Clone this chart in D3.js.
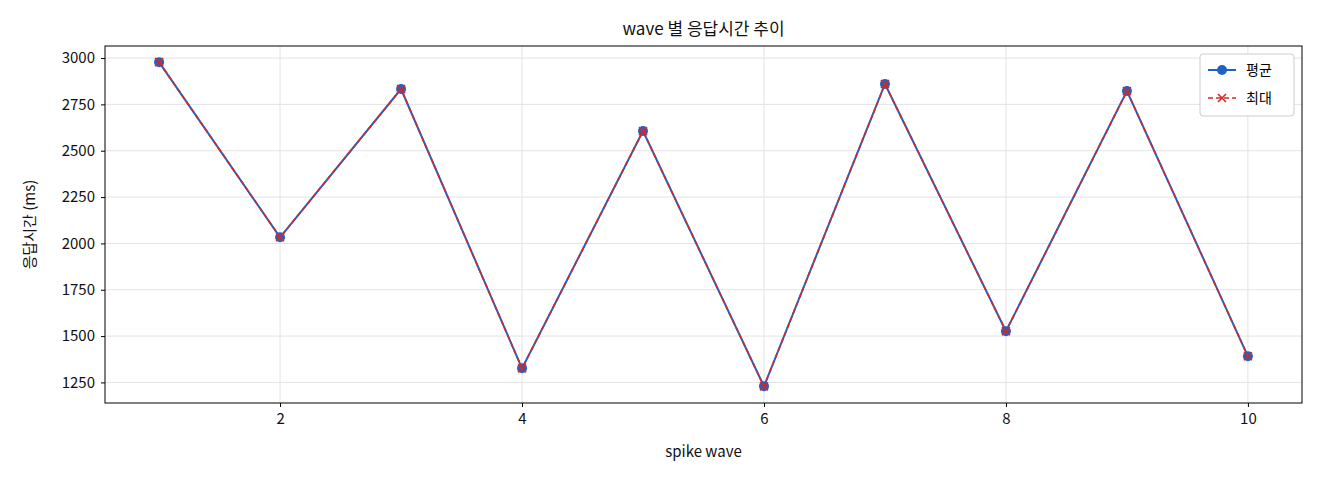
<!DOCTYPE html>
<html><head><meta charset="utf-8">
<script src="https://cdn.jsdelivr.net/npm/d3@7"></script>
<style>body{margin:0;background:#fff;font-family:"Noto Sans CJK KR","DejaVu Sans",sans-serif;}</style>
</head><body><svg id="c" width="1320" height="480"></svg>
<script>
const waves = [1,2,3,4,5,6,7,8,9,10];
const avgValues = [2978,2033,2833,1326,2606,1229,2860,1526,2822,1391];
const maxValues = [2978,2033,2833,1326,2606,1229,2860,1526,2822,1391];
const xTicks = [2,4,6,8,10];
const yTicks = [1250,1500,1750,2000,2250,2500,2750,3000];

const svg = d3.select("#c");
const L=105,R=1302,T=46,B=403;
const x = d3.scaleLinear().domain([0.553,10.447]).range([L,R]);
const y = d3.scaleLinear().domain([1139,3065]).range([B,T]);
const g = svg.append("g");
g.selectAll(".gx").data(xTicks).join("line").attr("x1",d=>x(d)).attr("x2",d=>x(d)).attr("y1",T).attr("y2",B).attr("stroke","#e3e3e3");
g.selectAll(".gy").data(yTicks).join("line").attr("y1",d=>y(d)).attr("y2",d=>y(d)).attr("x1",L).attr("x2",R).attr("stroke","#e3e3e3");
const xa = svg.append("g").attr("transform",`translate(0,${B})`).call(d3.axisBottom(x).tickValues(xTicks).tickFormat(d3.format("d")).tickSize(4).tickPadding(6));
const ya = svg.append("g").attr("transform",`translate(${L},0)`).call(d3.axisLeft(y).tickValues(yTicks).tickFormat(d3.format("d")).tickSize(4).tickPadding(6));
[xa,ya].forEach(a=>{a.select(".domain").remove();a.selectAll("text").attr("font-size",15).attr("fill","#111").style("font-family","'Noto Sans CJK KR',sans-serif");});
svg.append("rect").attr("x",L).attr("y",T).attr("width",R-L).attr("height",B-T).attr("fill","none").attr("stroke","#000");
const line = d3.line().x((d,i)=>x(waves[i])).y(d=>y(d));
svg.append("path").datum(avgValues).attr("d",line).attr("fill","none").attr("stroke","#1f62c4").attr("stroke-width",2);
svg.selectAll(".pa").data(avgValues).join("circle").attr("cx",(d,i)=>x(waves[i])).attr("cy",d=>y(d)).attr("r",5).attr("fill","#1f62c4");
svg.append("path").datum(maxValues).attr("d",line).attr("fill","none").attr("stroke","#d62728").attr("stroke-width",1.6).attr("stroke-dasharray","5,3");
const xm = (sel,cx,cy)=>sel.append("path").attr("d",`M${cx-4},${cy-4}L${cx+4},${cy+4}M${cx-4},${cy+4}L${cx+4},${cy-4}`).attr("stroke","#d62728").attr("stroke-width",1.6);
maxValues.forEach((d,i)=>xm(svg,x(waves[i]),y(d)));
svg.append("text").attr("x",(L+R)/2).attr("y",35).attr("text-anchor","middle").attr("font-size",17).attr("fill","#111").text("wave 별 응답시간 추이");
svg.append("text").attr("x",(L+R)/2).attr("y",457).attr("text-anchor","middle").attr("font-size",15).attr("fill","#111").text("spike wave");
svg.append("text").attr("transform",`translate(35,${(T+B)/2}) rotate(-90)`).attr("text-anchor","middle").attr("font-size",15).attr("fill","#111").text("응답시간 (ms)");
const lg = svg.append("g").attr("transform","translate(1200,54)");
lg.append("rect").attr("width",94).attr("height",62).attr("rx",3).attr("fill","#fff").attr("stroke","#ccc");
lg.append("line").attr("x1",8).attr("x2",36).attr("y1",16).attr("y2",16).attr("stroke","#1f62c4").attr("stroke-width",2);
lg.append("circle").attr("cx",22).attr("cy",16).attr("r",5).attr("fill","#1f62c4");
lg.append("text").attr("x",46).attr("y",21).attr("font-size",14).text("평균");
lg.append("line").attr("x1",8).attr("x2",36).attr("y1",44).attr("y2",44).attr("stroke","#d62728").attr("stroke-width",1.6).attr("stroke-dasharray","5,3");
xm(lg,22,44);
lg.append("text").attr("x",46).attr("y",49).attr("font-size",14).text("최대");
</script></body></html>
